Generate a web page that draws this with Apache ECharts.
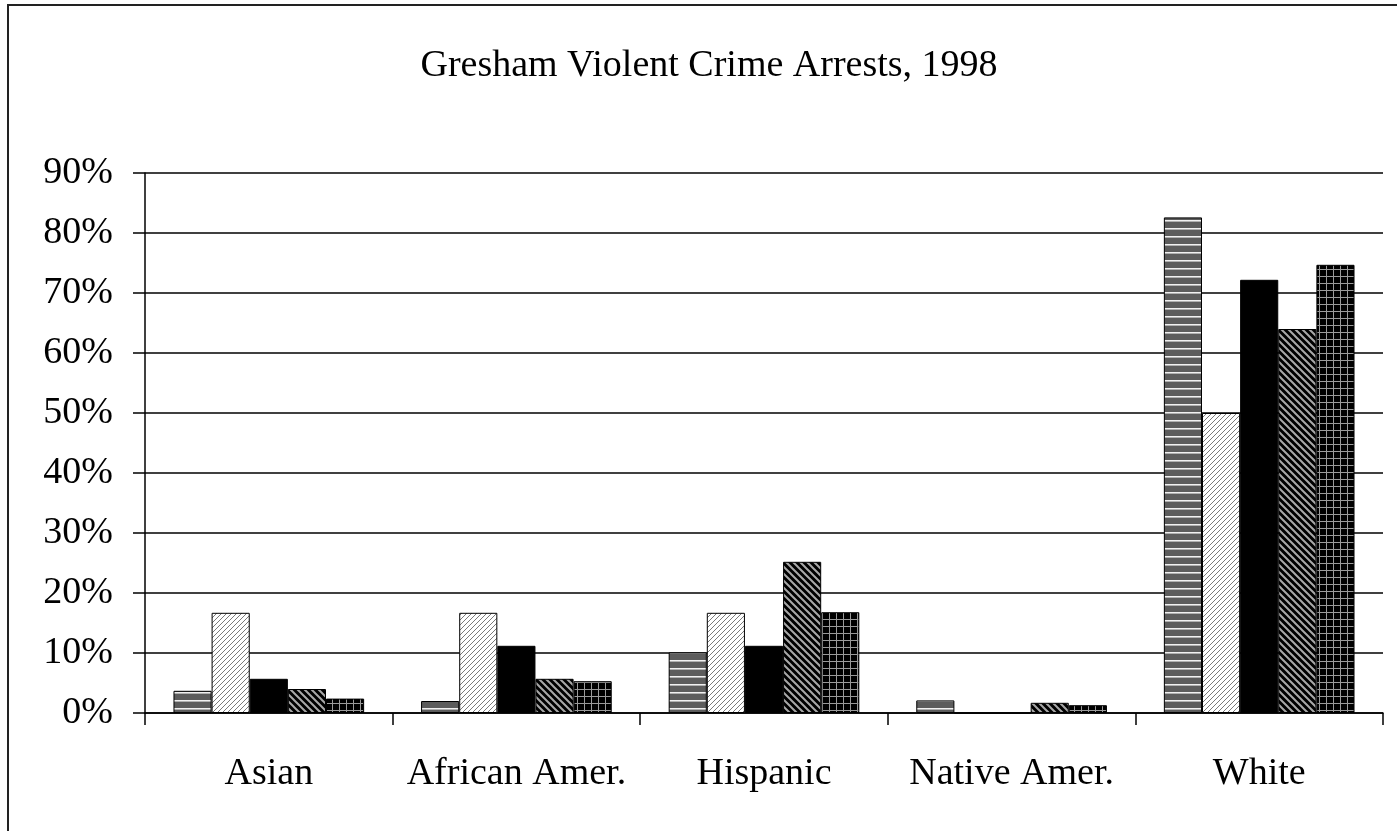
<!DOCTYPE html>
<html>
<head>
<meta charset="UTF-8">
<title>Gresham Violent Crime Arrests, 1998</title>
<script src="https://cdn.jsdelivr.net/npm/echarts@6/dist/echarts.min.js"></script>
<style>
html, body { margin: 0; padding: 0; background: #fff; }
#main { width: 1397px; height: 831px; }
</style>
</head>
<body>
<div id="main"></div>
<script>
// data (percent of arrests)
var categories = ['Asian', 'African Amer.', 'Hispanic', 'Native Amer.', 'White'];
var series1 = [3.7, 2.0, 10.1, 2.1, 82.6];
var series2 = [16.7, 16.7, 16.7, 0, 50.0];
var series3 = [5.7, 11.2, 11.2, 0, 72.2];
var series4 = [4.0, 5.7, 25.2, 1.7, 64.0];
var series5 = [2.4, 5.3, 16.8, 1.3, 74.7];
var yTicks = [0, 10, 20, 30, 40, 50, 60, 70, 80, 90];

var serif = '"Liberation Serif", "Times New Roman", serif';

// small canvases used as fill patterns
function makePattern(size, draw) {
    var c = document.createElement('canvas');
    c.width = size; c.height = size;
    var ctx = c.getContext('2d');
    draw(ctx, size);
    return { image: c, repeat: 'repeat' };
}

var patStripes = makePattern(8, function (ctx, s) {
    ctx.fillStyle = '#5c5c5c';
    ctx.fillRect(0, 0, s, s);
    ctx.fillStyle = '#f0f0f0';
    ctx.fillRect(0, 4, s, 1);
    ctx.fillStyle = '#b0b0b0';
    ctx.fillRect(0, 5, s, 1);
});

var patLightHatch = makePattern(5, function (ctx, s) {
    ctx.fillStyle = '#fff';
    ctx.fillRect(0, 0, s, s);
    ctx.strokeStyle = '#7a7a7a';
    ctx.lineWidth = 1;
    ctx.beginPath();
    ctx.moveTo(0, s); ctx.lineTo(s, 0);
    ctx.moveTo(-1, 1); ctx.lineTo(1, -1);
    ctx.moveTo(s - 1, s + 1); ctx.lineTo(s + 1, s - 1);
    ctx.stroke();
});

var patDarkHatch = makePattern(7, function (ctx, s) {
    ctx.fillStyle = '#000';
    ctx.fillRect(0, 0, s, s);
    ctx.strokeStyle = '#a8a8a8';
    ctx.lineWidth = 2;
    ctx.beginPath();
    ctx.moveTo(0, 0); ctx.lineTo(s, s);
    ctx.moveTo(s - 1, -1); ctx.lineTo(s + 1, 1);
    ctx.moveTo(-1, s - 1); ctx.lineTo(1, s + 1);
    ctx.stroke();
});

var patGrid = makePattern(7, function (ctx, s) {
    ctx.fillStyle = '#000';
    ctx.fillRect(0, 0, s, s);
    ctx.fillStyle = '#9a9a9a';
    ctx.fillRect(3, 0, 1, s);
    ctx.fillRect(0, 3, s, 1);
});

function barSeries(name, data, fill) {
    return {
        name: name,
        type: 'bar',
        data: data,
        barGap: '0%',
        barCategoryGap: '23%',
        itemStyle: { color: fill, borderColor: '#000', borderWidth: 1 },
        emphasis: { disabled: true },
        animation: false
    };
}

var chart = echarts.init(document.getElementById('main'));

var option = {
    backgroundColor: '#fff',
    animation: false,
    title: {
        text: 'Gresham Violent Crime Arrests, 1998',
        left: 704,
        textAlign: 'center',
        top: 42,
        textStyle: { fontFamily: serif, fontSize: 38, fontWeight: 'normal', color: '#000' }
    },
    graphic: [{
        type: 'rect',
        shape: { x: 8, y: 5, width: 1600, height: 1000 },
        style: { fill: null, stroke: '#222', lineWidth: 2 },
        silent: true,
        z: -10
    }],
    grid: { left: 145, right: 14, top: 173, bottom: 118 },
    xAxis: {
        type: 'category',
        data: categories,
        axisLine: { lineStyle: { color: '#000', width: 1.5 } },
        axisTick: { show: true, length: 12, lineStyle: { color: '#000', width: 1.5 } },
        axisLabel: { interval: 0, margin: 42, fontFamily: serif, fontSize: 38, color: '#000' }
    },
    yAxis: {
        type: 'value',
        min: yTicks[0],
        max: yTicks[yTicks.length - 1],
        interval: 10,
        axisLine: { show: true, lineStyle: { color: '#000', width: 1.5 } },
        axisTick: { show: true, length: 12, lineStyle: { color: '#000', width: 1.5 } },
        axisLabel: { formatter: '{value}%', margin: 32, fontFamily: serif, fontSize: 38, color: '#000' },
        splitLine: { show: true, lineStyle: { color: '#000', width: 1.5 } }
    },
    series: [
        barSeries('Series 1', series1, patStripes),
        barSeries('Series 2', series2, patLightHatch),
        barSeries('Series 3', series3, '#000'),
        barSeries('Series 4', series4, patDarkHatch),
        barSeries('Series 5', series5, patGrid)
    ]
};

chart.setOption(option);
</script>
</body>
</html>
